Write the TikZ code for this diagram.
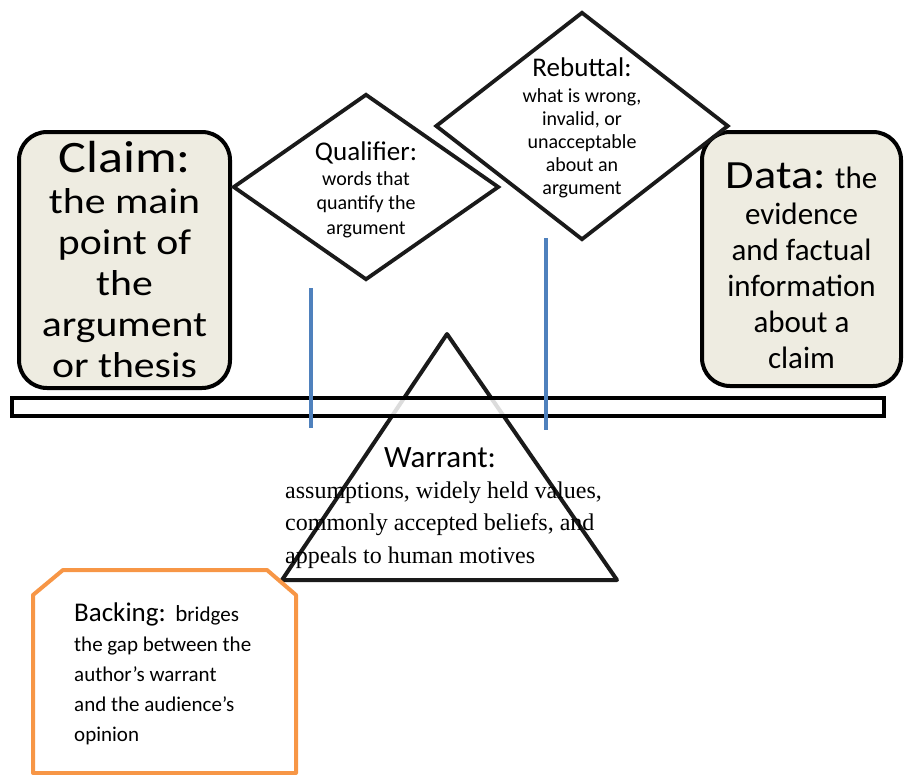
\documentclass[tikz,border=0pt]{standalone}
\usepackage{fontspec}
\setmainfont{Carlito}
\newfontfamily\widefont[FakeStretch=1.16]{Carlito}
\newfontfamily\serifpart{Liberation Serif}
\usetikzlibrary{shapes.geometric}

\definecolor{boxfill}{HTML}{EEECE1}
\definecolor{postblue}{HTML}{4F81BD}
\definecolor{backorange}{HTML}{F79646}
\definecolor{inkblack}{HTML}{1A1A1A}

\tikzstyle{part}=[draw,line width=4pt,rounded corners=28pt,fill=boxfill,inner sep=0pt]
\tikzstyle{diam}=[draw,inkblack,line width=3.8pt,diamond,inner sep=0pt]
\tikzstyle{post}=[draw,line width=3.5pt,postblue]
\tikzstyle{beam}=[draw,line width=3.5pt,fill=white,fill opacity=0.85,inner sep=0pt]
\tikzstyle{label}=[align=center,inner sep=0pt]
\newcommand{\fs}[2]{\fontsize{#1}{#2}\selectfont}

\begin{document}
\begin{tikzpicture}[x=1pt,y=-1pt]
    \useasboundingbox (0,0) rectangle (904,774);
    % First the two side boxes and the two diamonds
    \node[part, minimum width=211pt, minimum height=256pt] (claim) at (124.5,260) {};
    \node[part, minimum width=199pt, minimum height=254pt] (data) at (801.5,259) {};
    \node[diam, minimum width=266pt, minimum height=186pt] (qual) at (366,187) {};
    \node[diam, minimum width=293pt, minimum height=228pt] (rebut) at (582,126) {};
    % The warrant triangle, then the beam over it
    \coordinate (apex) at (447,334);
    \coordinate (left) at (282,580);
    \coordinate (right) at (617,580);
    \draw[inkblack, line width=4pt, line join=round] (apex) -- (left) -- (right) -- cycle;
    \node[beam, minimum width=872pt, minimum height=18pt] (beam) at (448,407) {};
    % Posts through the beam
    \foreach \name/\x/\top/\bot in {qpost/311/288/428, rpost/546/238/430} {
        \coordinate (\name a) at (\x,\top);
        \coordinate (\name b) at (\x,\bot);
        \path[post] (\name a) -- (\name b);
    }
    % The backing shape
    \draw[backorange, line width=4pt, line join=round]
        (33,773) -- (33,595) -- (63,570) -- (267,570) -- (296,595) -- (296,773) -- cycle;
    % Texts
    \node[label, font=\widefont\fs{36}{41}] (claimtxt) at (124.5,260)
        {{\fs{45}{46}Claim:}\\the main\\point of\\the\\argument\\or thesis};
    \node[label, font=\fs{31}{36}] (datatxt) at (801.5,266)
        {{\widefont\fs{40}{44}Data:} the\\evidence\\and factual\\information\\about a\\claim};
    \node[label, font=\fs{20}{24.5}] (qualtxt) at (366,190)
        {{\fs{27}{30}Qualifier:}\\words that\\quantify the\\argument};
    \node[label, font=\fs{20}{23}] (rebuttxt) at (582,128)
        {{\fs{27}{30}Rebuttal:}\\[3pt]what is wrong,\\invalid, or\\unacceptable\\about an\\argument};
    \node[label, font=\fs{31}{34}] (warrtitle) at (440,458) {Warrant:};
    \node[label, align=left, anchor=west, font=\serifpart\fs{24}{32.5}] (warrtxt) at (285,525)
        {assumptions, widely held values,\\commonly accepted beliefs, and\\appeals to human motives};
    \node[label, align=left, anchor=west, font=\fs{21}{30}] (backtxt) at (74,674)
        {{\fs{27}{30}Backing:}\ \ {\fs{23}{30}b}ridges\\the gap between the\\author’s warrant\\and the audience’s\\opinion};
\end{tikzpicture}
\end{document}
